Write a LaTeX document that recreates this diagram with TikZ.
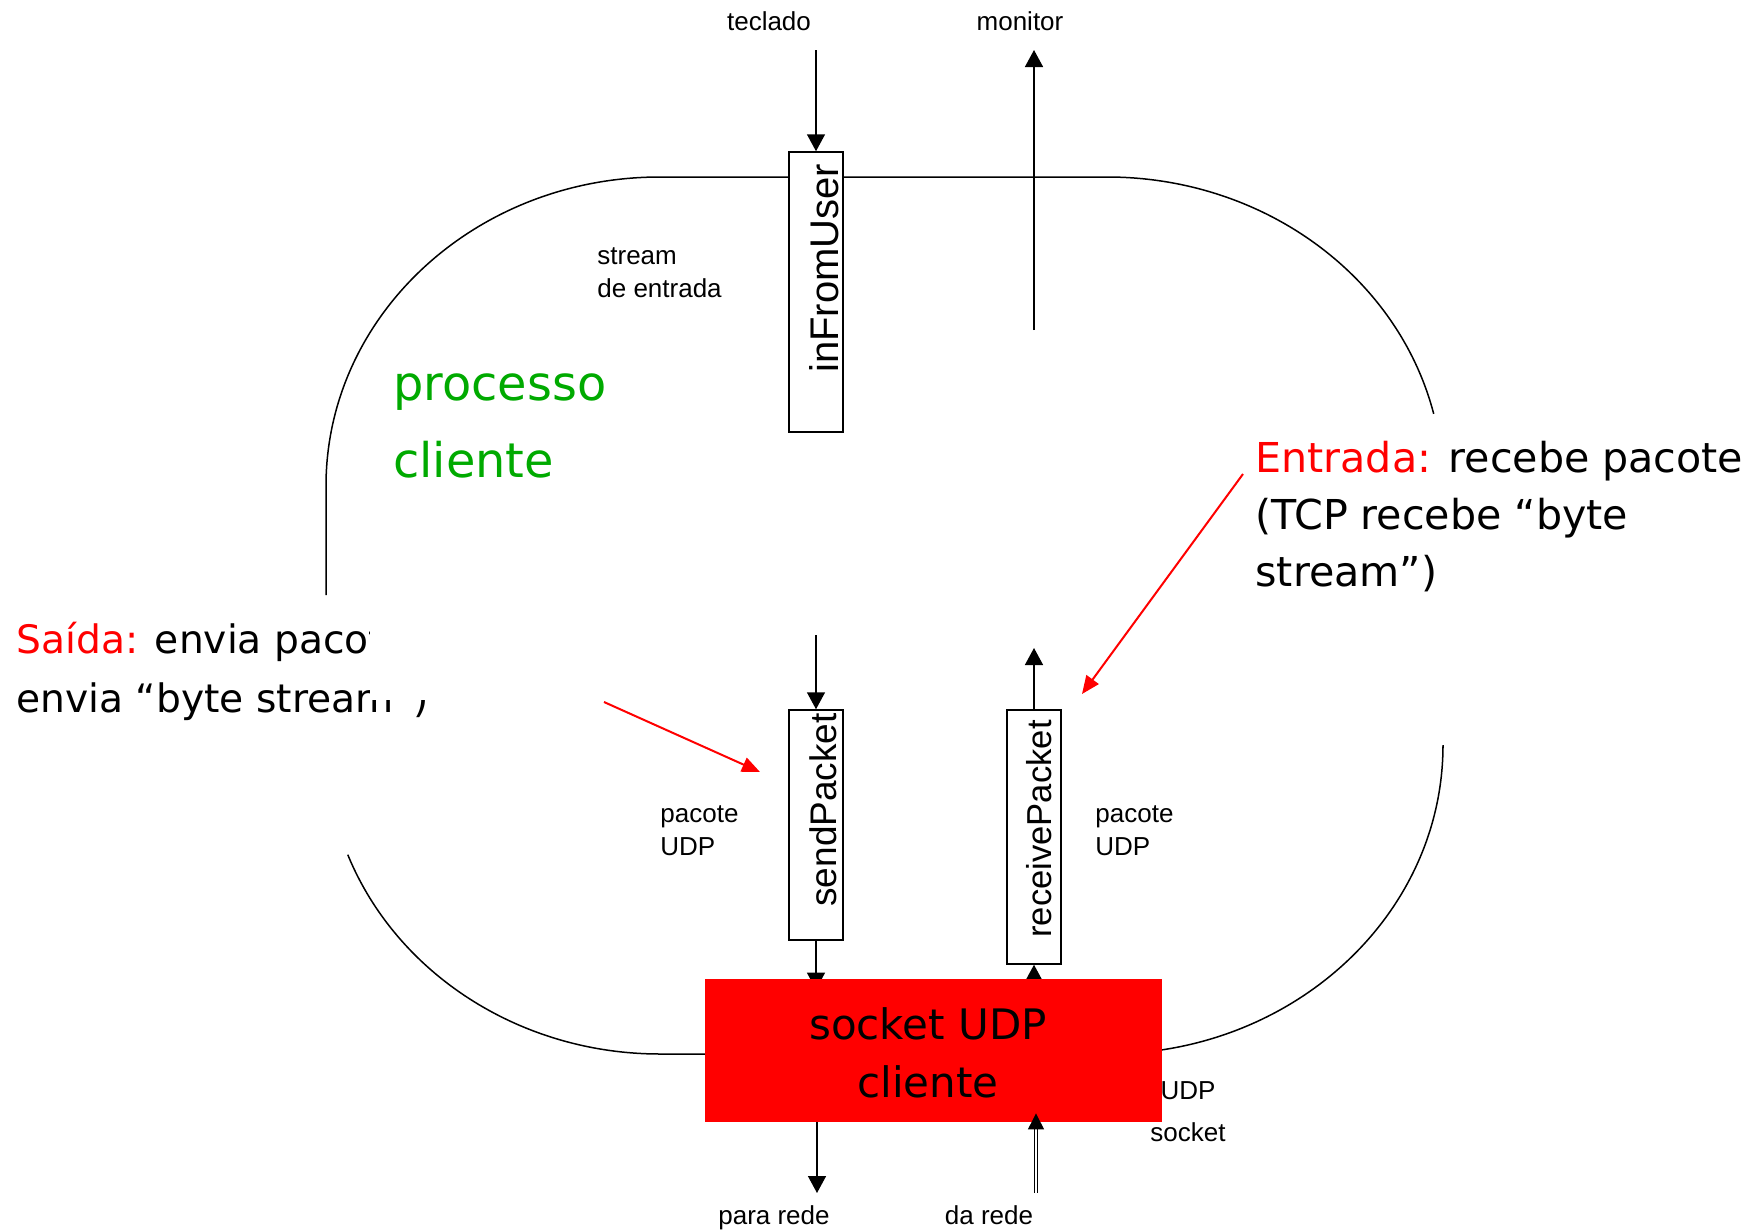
\documentclass[tikz,border=0pt]{standalone}
\usepackage{fontspec}
\setmainfont{Liberation Sans}
\newfontfamily\comicfont{DejaVu Sans}
\usepackage{tikz}
\usetikzlibrary{arrows.meta}
\usetikzlibrary{backgrounds}
\definecolor{procgreen}{RGB}{0,170,0}

\begin{document}
\begin{tikzpicture}[x=0.5pt,y=-0.5pt,
    lbl/.style={font=\fontsize{13}{16.5}\selectfont, inner sep=0pt, align=left},
    pbox/.style={draw, fill=white, line width=0.75pt, minimum width=27pt, inner sep=0pt},
    vtxt/.style={rotate=90, anchor=base west, inner sep=0pt},
    arr/.style={line width=0.75pt, -{Triangle[length=8.5pt,width=9pt]}},
    redarr/.style={red, line width=1pt, -{Triangle[length=9pt,width=7.5pt]}}]
    \useasboundingbox (0,0) rectangle (1753,1231);

    \node[pbox, minimum height=140pt] (inFromUser) at (816,292) {};
    \node[pbox, minimum height=115pt] (sendPacket) at (816,825) {};
    \node[pbox, minimum height=127pt] (receivePacket) at (1034,837) {};
    \node[vtxt, font=\fontsize{20}{24}\selectfont] (inFromUserTxt) at (838,373) {inFromUser};
    \node[vtxt, font=\fontsize{18.5}{22}\selectfont] (sendPacketTxt) at (836,907) {sendPacket};
    \node[vtxt, font=\fontsize{17.3}{21}\selectfont] (receivePacketTxt) at (1051,938) {receivePacket};
    \node[fill=red, minimum width=228.5pt, minimum height=71.5pt, inner sep=0pt] (socket) at (933.5,1050.5) {};
    \node[font=\comicfont\fontsize{21}{29}\selectfont, align=center, anchor=base, inner sep=0pt] (socketTxt) at (928,1097) {socket UDP\\cliente};

    \begin{pgfonlayer}{background}
    \draw[line width=0.75pt] (326,595) -- (326,486) arc[start angle=180, end angle=270, x radius=334, y radius=309] -- (1107,177) arc[start angle=270, end angle=346.5, x radius=336, y radius=309];
    \draw[line width=0.75pt] (1443,748) -- (1443,745) arc[start angle=0, end angle=90, x radius=336, y radius=309] -- (660,1054) arc[start angle=90, end angle=159.2, x radius=334, y radius=309];
    \draw[arr, shorten >=-5.5pt] (sendPacket.south) -- (sendPacket.south |- socket.north);
    \draw[arr] (receivePacket.south |- socket.north) -- (receivePacket.south);
    \end{pgfonlayer}

    \node[lbl, anchor=base] (teclado) at (769,31) {teclado};
    \node[lbl, anchor=base] (monitor) at (1020,31) {monitor};
    \node[lbl, anchor=base west] (streamIn) at (597,297) {stream\\de entrada};
    \node[lbl, anchor=base west] (udpLeft) at (660,855) {pacote\\UDP};
    \node[lbl, anchor=base west] (udpRight) at (1095,855) {pacote\\UDP};
    \node[lbl, anchor=base, align=center, font=\fontsize{13}{21}\selectfont] (udpSocket) at (1188,1141) {UDP\\socket};
    \node[lbl, anchor=base] (paraRede) at (774,1224) {para rede};
    \node[lbl, anchor=base] (daRede) at (989,1224) {da rede};

    \coordinate (kbd) at (816,50);
    \coordinate (monTop) at (1034,50);
    \coordinate (monBase) at (1034,330);
    \coordinate (sendIn) at (816,635);
    \coordinate (recvOut) at (1034,648);
    \coordinate (toNet) at (817,1193);
    \coordinate (fromNet) at (1036,1193);
    \draw[arr] (kbd) -- (inFromUser.north);
    \draw[arr] (monBase) -- (monTop);
    \draw[arr] (sendIn) -- (sendPacket.north);
    \draw[arr] (receivePacket.north) -- (recvOut);
    \draw[arr] (socket.south -| toNet) -- (toNet);
    \draw[line width=0.5pt, double, double distance=1pt, -{Triangle[length=8pt,width=8pt]}, shorten >=-4.5pt] (fromNet) -- (fromNet |- socket.south);

    \node[font=\comicfont\fontsize{19.6}{29.5}\selectfont, anchor=base west, align=left, inner sep=0pt] (saida) at (16,712) {{\color{red}Saída:} envia pacote\\envia “byte stream”)};
    \fill[white] (370,360) rectangle (625,700);
    \node[font=\comicfont\fontsize{23.9}{38.5}\selectfont, text=procgreen, anchor=base west, align=left, inner sep=0pt] (processo) at (393,477) {processo\\cliente};
    \node[font=\comicfont\fontsize{20.6}{28.5}\selectfont, anchor=base west, align=left, inner sep=0pt] (entrada) at (1255,586) {{\color{red}Entrada:} recebe pacote\\(TCP recebe “byte\\stream”)};

    \coordinate (saidaTail) at (604,702);
    \coordinate (saidaTip) at (760,772);
    \coordinate (entradaTail) at (1243,474);
    \coordinate (entradaTip) at (1082,694);
    \draw[redarr] (saidaTail) -- (saidaTip);
    \draw[redarr] (entradaTail) -- (entradaTip);
\end{tikzpicture}
\end{document}
